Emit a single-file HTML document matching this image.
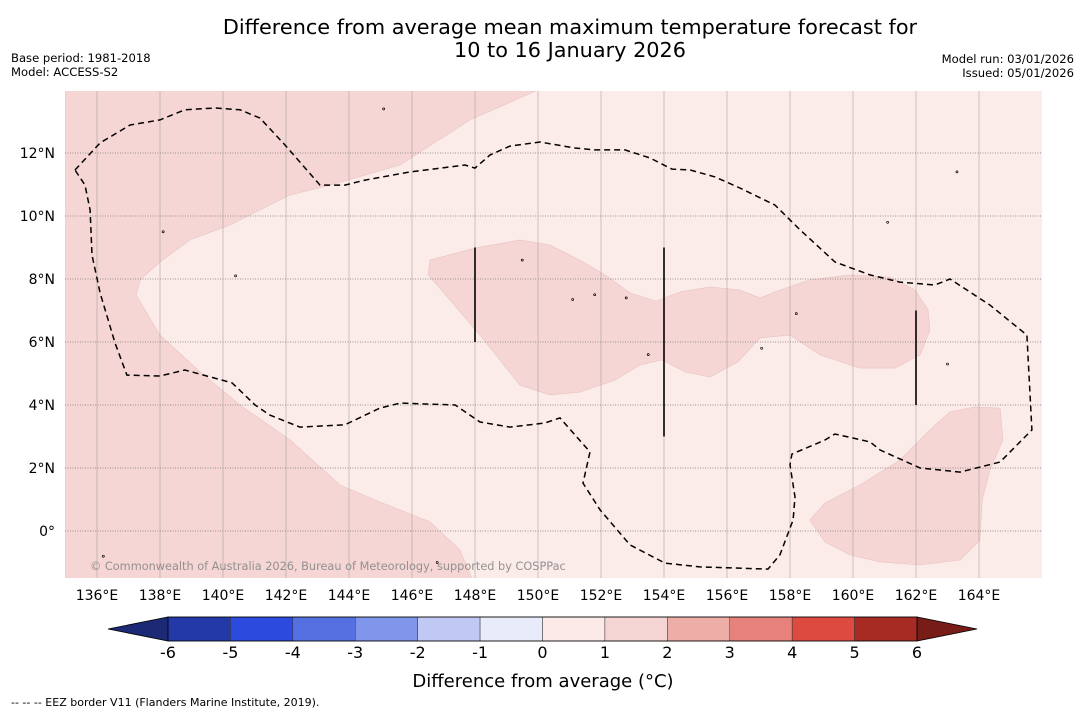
<!DOCTYPE html>
<html><head><meta charset="utf-8">
<style>
body{margin:0;background:#fff;width:1085px;height:713px;overflow:hidden;font-family:"DejaVu Sans","Liberation Sans",sans-serif;}
svg{display:block}
</style></head>
<body>
<svg id="chart" width="1085" height="713" xmlns="http://www.w3.org/2000/svg" font-family="DejaVu Sans, Liberation Sans, sans-serif">
<text x="570" y="34" font-size="20.8" text-anchor="middle">Difference from average mean maximum temperature forecast for</text>
<text x="570" y="57" font-size="20.8" text-anchor="middle">10 to 16 January 2026</text>
<text x="11" y="62" font-size="11.6">Base period: 1981-2018</text>
<text x="11" y="76" font-size="11.6">Model: ACCESS-S2</text>
<text x="1074" y="63" font-size="11.6" text-anchor="end">Model run: 03/01/2026</text>
<text x="1074" y="77" font-size="11.6" text-anchor="end">Issued: 05/01/2026</text>
<g id="map"></g>
<text x="90" y="570" font-size="11.3" fill="#888" fill-opacity="0.9">© Commonwealth of Australia 2026, Bureau of Meteorology, supported by COSPPac</text>
<g id="xticks"></g>
<g id="yticks"></g>
<g id="cbar"></g>
<text x="543" y="687" font-size="18" text-anchor="middle">Difference from average (°C)</text>
<text x="11" y="706" font-size="11">--  --  -- EEZ border V11 (Flanders Marine Institute, 2019).</text>
</svg>
<script>
const lonTicks=[136,138,140,142,144,146,148,150,152,154,156,158,160,162,164];
const latTicks=[0,2,4,6,8,10,12];
const cbLevels=[-6,-5,-4,-3,-2,-1,0,1,2,3,4,5,6];
const cbColors=["#2439a8","#2c4ade","#5570e0","#8096ea","#c0c8f4","#e8ebf9","#fbeae8","#f5d5d3","#eeaea8","#e6827b","#dc4a40","#a72a23"];
const cbLow="#1c2a75", cbHigh="#781c18";
const bgLevelColor="#fbebe9", anomColor="#f5d6d4";
const regionWest=[[150,14],[147.84,13.05],[145.62,11.62],[143.4,10.98],[142.13,10.67],[141.17,10.19],[140.22,9.71],[138.95,9.24],[138,8.54],[137.37,7.97],[137.24,7.49],[138,6.22],[139.27,5.05],[140.54,4.0],[142.13,2.89],[143.71,1.46],[144.98,0.92],[146.57,0.29],[147.52,-0.6],[147.9,-1.5],[135,-1.5],[135,14]];
const regionCentral=[[146.57,8.6],[148,8.98],[149.43,9.24],[150.38,9.08],[151.33,8.6],[152.13,8.13],[152.92,7.56],[153.75,7.3],[154.51,7.59],[155.46,7.75],[156.41,7.65],[157.05,7.4],[157.68,7.65],[158.63,7.97],[159.9,8.13],[161.17,8.06],[161.97,7.65],[162.38,7.02],[162.44,6.38],[162.13,5.59],[161.33,5.17],[160.22,5.17],[158.95,5.59],[158,6.22],[157.05,6.13],[156.35,5.37],[155.46,4.89],[154.67,5.05],[153.94,5.43],[153.24,5.27],[152.44,4.79],[151.33,4.41],[150.38,4.32],[149.43,4.63],[148.79,5.43],[148.16,6.22],[147.21,7.33],[146.51,8.13]];
const regionSE=[[158.63,0.35],[159.11,0.89],[160.22,1.46],[161.49,2.25],[162.44,3.21],[163.08,3.78],[163.87,3.94],[164.67,3.9],[164.76,2.89],[164.35,1.94],[164.1,0.98],[164.03,-0.29],[163.4,-0.92],[162.13,-1.08],[160.86,-0.98],[159.9,-0.76],[159.11,-0.35]];
const eezLine=[[135.3,11.46],[136.1,12.32],[137.05,12.89],[138,13.05],[138.79,13.37],[139.75,13.43],[140.54,13.37],[141.17,13.11],[141.97,12.25],[143.08,10.98],[143.87,10.98],[144.51,11.14],[145.94,11.4],[147.68,11.62],[148,11.52],[148.48,11.94],[149.11,12.22],[150.06,12.35],[151.17,12.16],[151.81,12.1],[152.76,12.1],[153.56,11.84],[154.25,11.49],[154.83,11.46],[155.62,11.24],[156.41,10.89],[157.52,10.35],[158.32,9.56],[159.43,8.54],[160.54,8.13],[161.49,7.9],[162.6,7.81],[163.08,8.0],[164.35,7.17],[165.52,6.22],[165.68,3.21],[164.67,2.19],[163.4,1.87],[162.13,2.0],[160.86,2.57],[160.54,2.83],[159.43,3.08],[159.11,2.89],[158.06,2.44],[158,2.1],[158.16,1.08],[158.1,0.35],[157.68,-0.76],[157.3,-1.21],[155.14,-1.14],[154.03,-1.02],[152.92,-0.44],[151.97,0.67],[151.43,1.52],[151.65,2.51],[151.17,3.05],[150.7,3.59],[150.22,3.43],[149.11,3.3],[148.16,3.46],[147.37,4.0],[145.62,4.06],[144.98,3.9],[143.87,3.37],[142.44,3.3],[141.49,3.68],[141.02,4.0],[140.29,4.7],[138.79,5.11],[138,4.92],[136.95,4.95],[136.57,5.97],[136.1,7.56],[135.84,8.76],[135.78,10.19],[135.62,10.98],[135.3,11.46]];
const barLons=[148,154,162];
const barLatTop=[9.0,9.0,7.0];
const barLatBot=[6.0,3.0,4.0];
const islands=[[145.1,13.4],[138.1,9.5],[152.8,7.4],[151.1,7.35],[158.2,6.9],[163.0,5.3],[153.5,5.6],[161.1,9.8],[163.3,11.4],[149.5,8.6],[140.4,8.1],[136.2,-0.8],[146.8,-1.0],[157.1,5.8],[151.8,7.5]];
const NS="http://www.w3.org/2000/svg";
const X0=65.5,Y0=531,K=31.5,LON0=135;
const xs=lon=>X0+(lon-LON0)*K, ys=lat=>Y0-lat*K;
const mapL=65,mapR=1042,mapT=91,mapB=578;
function mk(tag,attrs,parent){const e=document.createElementNS(NS,tag);for(const k in attrs)e.setAttribute(k,attrs[k]);parent.appendChild(e);return e;}
const map=document.getElementById('map');
const clip=mk('clipPath',{id:'mc'},map);mk('rect',{x:mapL,y:mapT,width:mapR-mapL,height:mapB-mapT},clip);
const g=mk('g',{'clip-path':'url(#mc)'},map);
const bg=mk('rect',{x:mapL,y:mapT,width:mapR-mapL,height:mapB-mapT,fill:bgLevelColor},g);


const pts=a=>a.map(p=>xs(p[0]).toFixed(1)+','+ys(p[1]).toFixed(1)).join(' ');
[[regionWest,'anomaly-region-west'],[regionCentral,'anomaly-region-central'],[regionSE,'anomaly-region-southeast']].forEach(([r,n])=>{
 const p=mk('polygon',{points:pts(r),fill:anomColor,stroke:'#e8c4c2','stroke-width':0.6},g);
 
 
});
lonTicks.forEach(l=>{const ln=mk('line',{x1:xs(l),x2:xs(l),y1:mapT,y2:mapB,stroke:'#888','stroke-width':0.6,'stroke-opacity':0.7},g);
 
 });
latTicks.forEach(l=>{const ln=mk('line',{x1:mapL,x2:mapR,y1:ys(l),y2:ys(l),stroke:'#777','stroke-width':0.7,'stroke-dasharray':'1,1.5'},g);
 
 });
const eez=mk('polyline',{points:pts(eezLine),fill:'none',stroke:'#000','stroke-width':1.5,'stroke-dasharray':'6,4'},g);


barLons.forEach((l,i)=>{const b=mk('line',{x1:xs(l),x2:xs(l),y1:ys(barLatTop[i]),y2:ys(barLatBot[i]),stroke:'#000','stroke-width':1.6},g);
 
 });
islands.forEach(p=>{const c=mk('circle',{cx:xs(p[0]),cy:ys(p[1]),r:1,fill:'none',stroke:'#000','stroke-width':0.7},g);
 
 });
const xt=document.getElementById('xticks'),yt=document.getElementById('yticks');
lonTicks.forEach(l=>{const t=mk('text',{x:xs(l),y:600,'font-size':14,'text-anchor':'middle'},xt);t.textContent=l+'°E';
 
 });
latTicks.forEach(l=>{const t=mk('text',{x:55,y:ys(l)+5,'font-size':14,'text-anchor':'end'},yt);t.textContent=l===0?'0°':l+'°N';
 
 });
const cb=document.getElementById('cbar');
const cbL=168,cbR=917,cbT=617,cbB=641,cbW=(cbR-cbL)/(cbLevels.length-1);
const cx=v=>cbL+(v-cbLevels[0])*cbW;
const lt=mk('polygon',{points:`${cbL},${cbT} ${cbL},${cbB} 108,629`,fill:cbLow,stroke:'#000','stroke-width':0.8},cb);


const rt=mk('polygon',{points:`${cbR},${cbT} ${cbR},${cbB} 977,629`,fill:cbHigh,stroke:'#000','stroke-width':0.8},cb);


cbColors.forEach((c,i)=>{const r=mk('rect',{x:cx(cbLevels[i]),y:cbT,width:cbW,height:cbB-cbT,fill:c,stroke:'#333','stroke-width':0.5},cb);
 
 });
mk('rect',{x:cbL,y:cbT,width:cbR-cbL,height:cbB-cbT,fill:'none',stroke:'#000','stroke-width':0.8},cb);
cbLevels.forEach(v=>{const t=mk('text',{x:cx(v),y:658,'font-size':16,'text-anchor':'middle'},cb);t.textContent=v;
 
 });
</script>
</body></html>
